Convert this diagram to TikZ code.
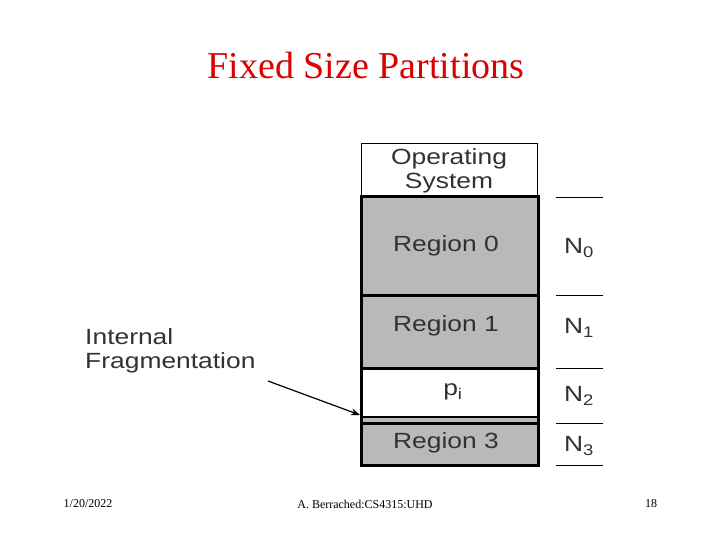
\documentclass[tikz,border=0pt]{standalone}
\usepackage{fontspec}
\setmainfont{Liberation Serif}
\newfontfamily\boxfont{Liberation Sans}
\usetikzlibrary{arrows.meta}
\definecolor{slidered}{RGB}{220,0,0}
\definecolor{regiongray}{RGB}{185,185,185}
\definecolor{labelgray}{RGB}{50,50,50}
\tikzset{
  boxtext/.style={font=\boxfont\fontsize{22}{24}\selectfont,text=labelgray,xscale=1.2,inner sep=0pt},
  footer/.style={font=\fontsize{12}{14}\selectfont}
}
\begin{document}
\begin{tikzpicture}[x=1pt,y=-1pt]
    \useasboundingbox (0,0) rectangle (720,540);
    \node[text=slidered,font=\fontsize{38}{40}\selectfont] (title) at (366,66) {Fixed Size Partitions};
    % memory column
    \draw[thin] (361,197) -- (361,143) -- (537,143) -- (537,197);
    \node[boxtext,align=center] (os) at (449,171) {Operating\\System};
    \fill[regiongray] (361,197) rectangle (538,465);
    \fill[white] (361,368) rectangle (538,417);
    \draw[line width=3pt] (361,197) rectangle (538,465);
    \draw[line width=3pt] (361,295) -- (538,295);
    \draw[line width=3pt] (361,368) -- (538,368);
    \draw[line width=2pt] (361,417) -- (538,417);
    \draw[line width=3pt] (361,423) -- (538,423);
    \node[boxtext] (r0) at (446,246) {Region 0};
    \node[boxtext] (r1) at (446,326) {Region 1};
    \node[boxtext] (pi) at (453,392) {p\textsubscript{i}};
    \node[boxtext] (r3) at (446,443) {Region 3};
    % sizes
    \foreach \y in {197,295,368,423,465}
        \draw[thin] (556,\y) -- (603,\y);
    \node[boxtext] (n0) at (579,248) {N\textsubscript{0}};
    \node[boxtext] (n1) at (579,328) {N\textsubscript{1}};
    \node[boxtext] (n2) at (579,396) {N\textsubscript{2}};
    \node[boxtext] (n3) at (579,446) {N\textsubscript{3}};
    % fragmentation label
    \node[boxtext,align=left,anchor=north west] (frag) at (85,328) {Internal\\Fragmentation};
    \coordinate (gap) at (360,415);
    \draw[-{Stealth[length=9pt]},line width=1.2pt] (268,381) -- (gap);
    % footer
    \node[footer] (date) at (88,504) {1/20/2022};
    \node[footer] (author) at (365,504) {A. Berrached:CS4315:UHD};
    \node[footer] (page) at (651,504) {18};
\end{tikzpicture}
\end{document}
